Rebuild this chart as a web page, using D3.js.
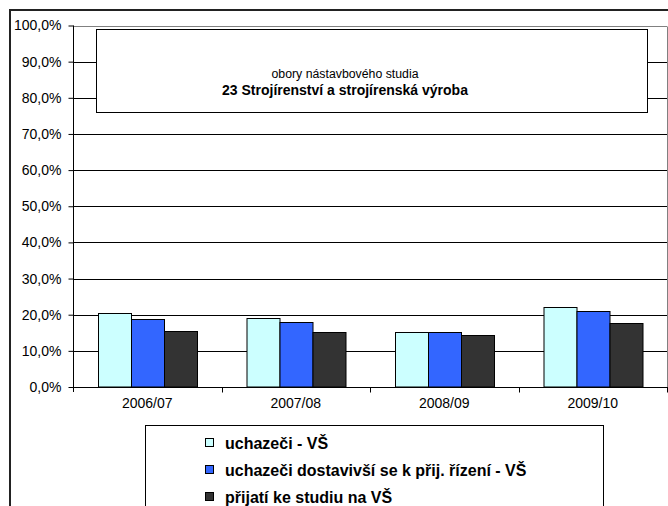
<!DOCTYPE html>
<html>
<head>
<meta charset="utf-8">
<script src="https://cdn.jsdelivr.net/npm/d3@7"></script>
<style>
  html, body { margin: 0; padding: 0; background: #fff; }
  svg { display: block; font-family: "Liberation Sans", Arial, sans-serif; }
</style>
</head>
<body>
<svg id="chart" width="668" height="506"></svg>
<script>
// Data ////////////////////////////////////////////////////
var categories = ["2006/07", "2007/08", "2008/09", "2009/10"];
var seriesNames = [
  "uchazeči - VŠ",
  "uchazeči dostavivší se k přij. řízení - VŠ",
  "přijatí ke studiu na VŠ"
];
var applicants = [20.5, 19.1, 15.3, 22.0];
var attended   = [18.8, 17.9, 15.3, 21.0];
var admitted   = [15.6, 15.3, 14.3, 17.6];
var yTicks = [0, 10, 20, 30, 40, 50, 60, 70, 80, 90, 100];
var titleLines = ["obory nástavbového studia", "23 Strojírenství a strojírenská výroba"];
var colors = ["#CCFFFF", "#3366FF", "#333333"];

(function() {
  "use strict";

  var svg = d3.select("#chart"),
      values = [applicants, attended, admitted],
      plot = { left: 73, right: 667, top: 25.5, bottom: 387 };

  // Outer chart frame
  svg.append("rect")
      .attr("x", 10).attr("y", 10)
      .attr("width", 700).attr("height", 600)
      .attr("fill", "#fff")
      .attr("stroke", "#222")
      .attr("stroke-width", 2);

  // Scales
  var x0 = d3.scaleBand()
      .domain(categories)
      .range([plot.left, plot.right])
      .padding(0);

  var x1 = d3.scaleBand()
      .domain(d3.range(seriesNames.length))
      .range([0, x0.bandwidth()])
      .paddingInner(0)
      .paddingOuter(0.75);

  var y = d3.scaleLinear()
      .domain([0, 100])
      .range([plot.bottom, plot.top]);

  // Gridlines
  svg.append("g")
      .selectAll("line")
      .data(yTicks.slice(1))
      .enter()
      .append("line")
      .attr("x1", plot.left)
      .attr("x2", plot.right)
      .attr("y1", function(d) { return Math.round(y(d)) + 0.5; })
      .attr("y2", function(d) { return Math.round(y(d)) + 0.5; })
      .attr("stroke", function(d) { return d === 100 ? "#808080" : "#000"; })
      .attr("stroke-width", 1);

  // Right plot border
  svg.append("line")
      .attr("x1", plot.right + 0.5).attr("x2", plot.right + 0.5)
      .attr("y1", Math.round(y(100)) + 0.5).attr("y2", plot.bottom)
      .attr("stroke", "#808080");

  // Title box
  svg.append("rect")
      .attr("x", 96.5).attr("y", 29.5)
      .attr("width", 551).attr("height", 83)
      .attr("fill", "#fff")
      .attr("stroke", "#000");

  svg.append("g")
      .selectAll("text")
      .data(titleLines)
      .enter()
      .append("text")
      .attr("x", 345)
      .attr("y", function(d, i) { return i === 0 ? 78 : 95; })
      .attr("text-anchor", "middle")
      .attr("font-size", function(d, i) { return i === 0 ? "12.3px" : "14px"; })
      .attr("font-weight", function(d, i) { return i === 0 ? "normal" : "bold"; })
      .attr("fill", "#000")
      .text(function(d) { return d; });

  // Bars
  var groups = svg.append("g")
      .selectAll("g")
      .data(categories)
      .enter()
      .append("g")
      .attr("transform", function(d) { return "translate(" + x0(d) + ",0)"; });

  groups.selectAll("rect")
      .data(function(d, i) {
        return values.map(function(v, s) { return { s: s, v: v[i] }; });
      })
      .enter()
      .append("rect")
      .attr("x", function(d) { return Math.round(x1(d.s)) + 0.5; })
      .attr("y", function(d) { return Math.round(y(d.v)) + 0.5; })
      .attr("width", x1.bandwidth())
      .attr("height", function(d) { return plot.bottom - Math.round(y(d.v)) - 0.5; })
      .attr("fill", function(d) { return colors[d.s]; })
      .attr("stroke", "#000")
      .attr("stroke-width", 1);

  // Y axis
  var yAxis = d3.axisLeft(y)
      .tickValues(yTicks)
      .tickSize(5)
      .tickPadding(7)
      .tickFormat(function(d) { return d.toFixed(1).replace(".", ",") + "%"; });

  var gy = svg.append("g")
      .attr("transform", "translate(" + (plot.left + 0.5) + ",0)")
      .call(yAxis);
  gy.select(".domain").attr("stroke", "#000").attr("d", "M0," + y(100) + "V" + (plot.bottom + 5));
  gy.selectAll(".tick line").attr("stroke", "#000");
  gy.selectAll(".tick text")
      .attr("font-size", "14px")
      .attr("font-family", "Liberation Sans, Arial, sans-serif")
      .attr("fill", "#000");

  // X axis
  var xAxis = d3.axisBottom(x0).tickSize(0).tickPadding(11);
  var gx = svg.append("g")
      .attr("transform", "translate(0," + (plot.bottom + 0.5) + ")")
      .call(xAxis);
  gx.select(".domain").attr("stroke", "#000").attr("d", "M" + plot.left + ",0H" + (plot.right + 1));
  gx.selectAll(".tick text")
      .attr("font-size", "14px")
      .attr("font-family", "Liberation Sans, Arial, sans-serif")
      .attr("fill", "#000");

  // Category separators on x axis
  gx.append("g")
      .selectAll("line")
      .data(categories.slice(1).concat(["end"]))
      .enter()
      .append("line")
      .attr("x1", function(d) { return d === "end" ? plot.right + 0.5 : Math.round(x0(d)) + 0.5; })
      .attr("x2", function(d) { return d === "end" ? plot.right + 0.5 : Math.round(x0(d)) + 0.5; })
      .attr("y1", 0).attr("y2", 5)
      .attr("stroke", "#000");

  // Legend
  var legend = svg.append("g");
  legend.append("rect")
      .attr("x", 145.5).attr("y", 425.5)
      .attr("width", 458).attr("height", 120)
      .attr("fill", "#fff")
      .attr("stroke", "#000");

  var items = legend.selectAll("g.item")
      .data(seriesNames)
      .enter()
      .append("g")
      .attr("class", "item")
      .attr("transform", function(d, i) { return "translate(205," + (443 + i * 27) + ")"; });

  items.append("rect")
      .attr("x", 0.5).attr("y", -4.5)
      .attr("width", 8).attr("height", 8)
      .attr("fill", function(d, i) { return colors[i]; })
      .attr("stroke", "#000");

  items.append("text")
      .attr("x", 20)
      .attr("y", 6)
      .attr("font-size", "16px")
      .attr("font-weight", "bold")
      .attr("fill", "#000")
      .text(function(d) { return d; });

})();
</script>
</body>
</html>
